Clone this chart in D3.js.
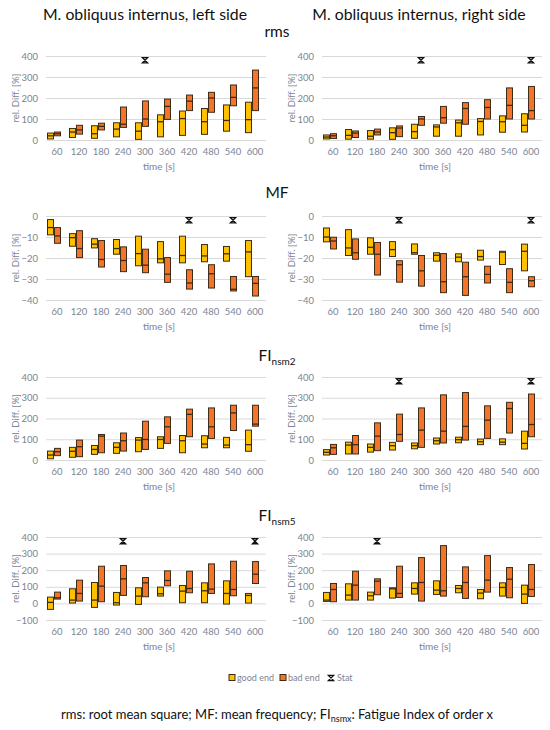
<!DOCTYPE html>
<html>
<head>
<meta charset="utf-8">
<script src="https://cdn.jsdelivr.net/npm/d3@7"></script>
<style>
  body { margin: 0; background: #fff; }
  svg { font-family: Lato, "Open Sans", sans-serif; }
</style>
</head>
<body>
<svg id="chart" width="550" height="730"></svg>
<script>
const times = [60, 120, 180, 240, 300, 360, 420, 480, 540, 600];

// every box is [low, median, high] in rel. Diff. [%]
const rmsLeftGood = [[5,20,33],[12,38,55],[8,30,68],[15,52,82],[3,42,82],[15,87,120],[22,102,138],[27,87,150],[42,93,167],[35,97,180]];
const rmsLeftBad = [[20,30,38],[28,48,70],[48,65,80],[60,75,157],[65,100,186],[98,160,195],[140,185,214],[132,200,227],[163,203,262],[140,248,333]];
const rmsRightGood = [[5,14,24],[4,22,50],[4,18,45],[3,35,58],[8,40,75],[18,62,72],[18,82,95],[24,88,102],[37,87,115],[38,70,125]];
const rmsRightBad = [[7,20,30],[12,33,43],[24,38,52],[16,57,67],[70,100,112],[80,106,160],[75,150,178],[100,155,192],[100,165,248],[100,140,255]];

const mfLeftGood = [[-9,-5.5,-1.7],[-14.4,-10.3,-8.4],[-15.2,-13.4,-10.8],[-18.2,-15.5,-11.2],[-23.7,-17.9,-9.6],[-22.3,-20.4,-12.2],[-22.3,-18.8,-9.6],[-21.8,-19,-13.6],[-21.5,-18,-14.5],[-28.9,-17.1,-11.7]];
const mfLeftBad = [[-13,-9.5,-5.5],[-19.8,-15.5,-7],[-24.3,-20.7,-11.7],[-26.5,-21.2,-14.7],[-27,-23.4,-15.8],[-31.6,-27.7,-19.8],[-34.8,-31.9,-25.6],[-34.3,-27.5,-23.2],[-35.7,-34.9,-28.8],[-38.1,-32.1,-28.8]];
const mfRightGood = [[-12.3,-10,-5.7],[-18.8,-15.2,-6.5],[-18.2,-14.9,-10.4],[-19.3,-16,-12.2],[-18.2,-17.5,-13.3],[-21.5,-18.7,-17.5],[-21.8,-19.6,-18],[-21,-19.3,-16.3],[-23.1,-17.2,-16.8],[-26.1,-16.8,-13.4]];
const mfRightBad = [[-15.7,-11.9,-10.1],[-20.6,-17.5,-10.9],[-28.1,-18.2,-12.6],[-31.5,-23.2,-21.3],[-33.4,-26.1,-18.8],[-36.5,-31.3,-17.9],[-37.8,-28.9,-22],[-31.9,-27.8,-23.9],[-36.5,-31.6,-25.1],[-33.7,-30.8,-28.9]];

const fi2LeftGood = [[6,24,43],[13,42,61],[27,51,70],[32,61,83],[40,96,108],[56,99,112],[35,93,118],[59,77,117],[59,72,109],[42,74,144]];
const fi2LeftBad = [[21,40,56],[16,64,96],[35,115,123],[43,93,130],[51,99,187],[80,160,208],[112,220,245],[104,160,251],[142,227,264],[163,173,264]];
const fi2RightGood = [[24,37,50],[29,72,86],[38,61,77],[48,69,85],[54,69,82],[77,93,106],[83,98,110],[74,88,101],[74,86,102],[53,80,139]];
const fi2RightBad = [[27,59,75],[29,74,118],[45,115,179],[90,123,221],[61,144,251],[82,139,314],[96,162,325],[104,192,261],[130,248,278],[112,171,318]];

const fi5LeftGood = [[-36,6,38],[2,20,88],[-24,20,126],[-10,4,66],[-6,44,94],[44,58,98],[4,74,108],[4,76,124],[-4,60,136],[2,48,60]];
const fi5LeftBad = [[26,34,68],[14,60,140],[10,104,224],[48,148,228],[40,124,156],[106,138,196],[64,90,194],[60,86,238],[46,84,254],[120,176,252]];
const fi5RightGood = [[12,20,66],[20,50,118],[20,46,68],[32,88,94],[56,90,124],[54,80,136],[64,90,108],[28,62,84],[44,96,124],[0,56,110]];
const fi5RightBad = [[10,84,120],[20,110,194],[52,134,148],[36,60,224],[14,126,276],[44,76,348],[30,126,220],[68,140,288],[34,146,216],[42,84,234]];

// Stat markers: [time, value]
const rmsLeftStat = [[300, 380]];
const rmsRightStat = [[300, 380], [600, 380]];
const mfLeftStat = [[420, -2], [540, -2]];
const mfRightStat = [[240, -2], [600, -2]];
const fi2LeftStat = [];
const fi2RightStat = [[240, 380], [600, 380]];
const fi5LeftStat = [[240, 375], [600, 375]];
const fi5RightStat = [[180, 375]];

const rmsTicks = [0, 100, 200, 300, 400];
const mfTicks = [-40, -30, -20, -10, 0];
const fi2Ticks = [0, 100, 200, 300, 400];
const fi5Ticks = [-100, 0, 100, 200, 300, 400];

const goodColor = '#ffc000';
const badColor = '#f5742a';
const edgeColor = '#3a2c18';
const labelColor = '#7b8494';
const gridColor = '#d9d9d9';

const rows = [
  { title: 'rms', sub: null, titleY: 37, top: 56, bottom: 140, domain: [0, 400], ticks: rmsTicks,
    left: [rmsLeftGood, rmsLeftBad, rmsLeftStat], right: [rmsRightGood, rmsRightBad, rmsRightStat] },
  { title: 'MF', sub: null, titleY: 198, top: 216, bottom: 300, domain: [-40, 0], ticks: mfTicks,
    left: [mfLeftGood, mfLeftBad, mfLeftStat], right: [mfRightGood, mfRightBad, mfRightStat] },
  { title: 'FI', sub: 'nsm2', titleY: 361, top: 377, bottom: 460, domain: [0, 400], ticks: fi2Ticks,
    left: [fi2LeftGood, fi2LeftBad, fi2LeftStat], right: [fi2RightGood, fi2RightBad, fi2RightStat] },
  { title: 'FI', sub: 'nsm5', titleY: 521, top: 537, bottom: 620, domain: [-100, 400], ticks: fi5Ticks,
    left: [fi5LeftGood, fi5LeftBad, fi5LeftStat], right: [fi5RightGood, fi5RightBad, fi5RightStat] }
];
const cols = [[46, 266], [322, 542]];

const svg = d3.select('#chart');

// column headings
svg.append('text').attr('x', 145).attr('y', 20).attr('text-anchor', 'middle')
  .attr('font-size', 15.8).attr('fill', '#111').text('M. obliquus internus, left side');
svg.append('text').attr('x', 419).attr('y', 20).attr('text-anchor', 'middle')
  .attr('font-size', 15.8).attr('fill', '#111').text('M. obliquus internus, right side');

const statPath = 'M-2.6,-2.6L2.6,-2.6L-2.6,2.6L2.6,2.6Z';

function drawStat(sel, x, y) {
  sel.append('path')
    .attr('d', statPath)
    .attr('transform', `translate(${x},${y})`)
    .attr('fill', 'none')
    .attr('stroke', '#111')
    .attr('stroke-width', 1.3);
}

function drawPanel(row, range, series) {
  const [goodData, badData, statData] = series;
  const x = d3.scaleBand().domain(times).range(range);
  const sub = d3.scaleBand().domain(['good', 'bad']).range([-9.5, 3.5]).paddingInner(0.15);
  const y = d3.scaleLinear().domain(row.domain).range([row.bottom, row.top]);
  const cx = (t) => x(t) + x.bandwidth() / 2;

  const g = svg.append('g');

  // y axis + gridlines
  const yAxis = g.append('g')
    .attr('transform', `translate(${range[0]},0)`)
    .call(d3.axisLeft(y).tickValues(row.ticks).tickSize(-(range[1] - range[0])).tickPadding(8));
  yAxis.select('.domain').remove();
  yAxis.selectAll('line').attr('stroke', gridColor);
  yAxis.selectAll('text').attr('fill', labelColor).attr('font-size', 9.5).attr('font-family', 'Lato');

  // x axis
  const xAxis = g.append('g')
    .attr('transform', `translate(0,${row.bottom})`)
    .call(d3.axisBottom(x).tickSize(0).tickPadding(8));
  xAxis.select('.domain').remove();
  xAxis.selectAll('text').attr('fill', labelColor).attr('font-size', 9.5).attr('font-family', 'Lato');

  g.append('text')
    .attr('x', (range[0] + range[1]) / 2 + 3)
    .attr('y', row.bottom + 30)
    .attr('text-anchor', 'middle')
    .attr('font-size', 10)
    .attr('fill', labelColor)
    .text('time [s]');

  g.append('text')
    .attr('transform', `translate(${range[0] - 27},${(row.top + row.bottom) / 2}) rotate(-90)`)
    .attr('text-anchor', 'middle')
    .attr('font-size', 9.5)
    .attr('fill', labelColor)
    .text('rel. Diff. [%]');

  const boxes = [];
  times.forEach((t, i) => {
    boxes.push({ t, key: 'good', v: goodData[i], color: goodColor });
    boxes.push({ t, key: 'bad', v: badData[i], color: badColor });
  });

  const box = g.append('g').selectAll('g')
    .data(boxes)
    .join('g');

  box.append('rect')
    .attr('x', (d) => cx(d.t) + sub(d.key))
    .attr('y', (d) => y(d.v[2]))
    .attr('width', sub.bandwidth())
    .attr('height', (d) => y(d.v[0]) - y(d.v[2]))
    .attr('fill', (d) => d.color)
    .attr('stroke', edgeColor)
    .attr('stroke-width', 1);

  box.append('line')
    .attr('x1', (d) => cx(d.t) + sub(d.key))
    .attr('x2', (d) => cx(d.t) + sub(d.key) + sub.bandwidth())
    .attr('y1', (d) => y(d.v[1]))
    .attr('y2', (d) => y(d.v[1]))
    .attr('stroke', edgeColor)
    .attr('stroke-width', 1.3);

  statData.forEach(([t, v]) => drawStat(g, cx(t), y(v)));
}

rows.forEach((row) => {
  const title = svg.append('text')
    .attr('x', 277)
    .attr('y', row.titleY)
    .attr('text-anchor', 'middle')
    .attr('font-size', 15.5)
    .attr('fill', '#111')
    .text(row.title);
  if (row.sub) {
    title.append('tspan').attr('font-size', 10).attr('dy', 4).text(row.sub);
  }
  drawPanel(row, cols[0], row.left);
  drawPanel(row, cols[1], row.right);
});

// legend
const legend = svg.append('g').attr('transform', 'translate(0,678)');
const legendItems = [
  { label: 'good end', color: goodColor, x: 229 },
  { label: 'bad end', color: badColor, x: 280 }
];
legendItems.forEach((d) => {
  legend.append('rect')
    .attr('x', d.x).attr('y', -3.5).attr('width', 6).attr('height', 6)
    .attr('fill', d.color).attr('stroke', edgeColor).attr('stroke-width', 1);
  legend.append('text')
    .attr('x', d.x + 8).attr('y', 3).attr('font-size', 9).attr('fill', labelColor).text(d.label);
});
drawStat(legend, 331, 0);
legend.append('text').attr('x', 337).attr('y', 3).attr('font-size', 9).attr('fill', labelColor).text('Stat');

// caption
const caption = svg.append('text')
  .attr('x', 277).attr('y', 719).attr('text-anchor', 'middle')
  .attr('font-size', 13).attr('fill', '#111');
caption.append('tspan').text('rms: root mean square; MF: mean frequency; FI');
caption.append('tspan').attr('font-size', 9).attr('dy', 3).text('nsmx');
caption.append('tspan').attr('dy', -3).text(': Fatigue Index of order x');
</script>
</body>
</html>
